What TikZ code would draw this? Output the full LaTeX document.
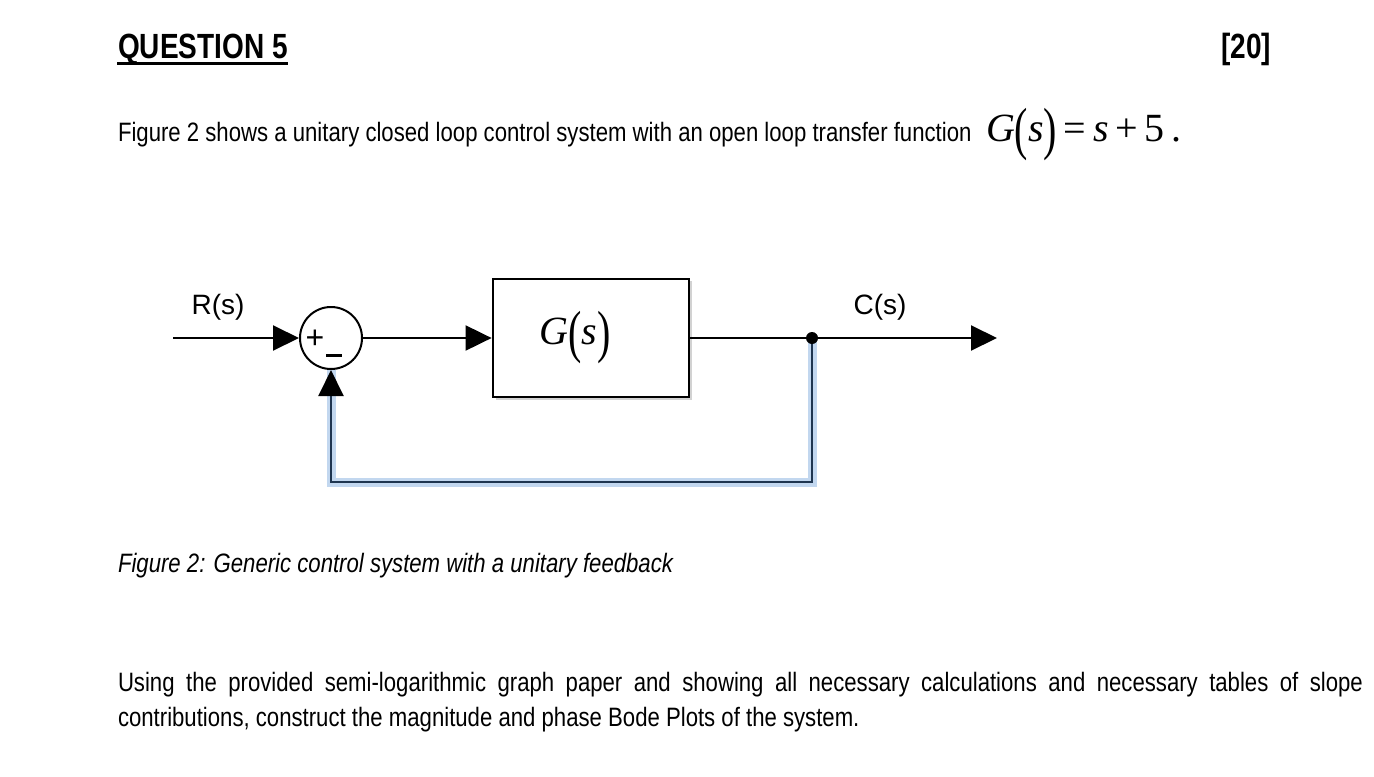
\documentclass[tikz,border=0pt]{standalone}
\usepackage{fontspec}
\setmainfont{Liberation Sans}[FakeStretch=0.833]
\newfontfamily\headfont{Liberation Sans}[FakeStretch=0.8]
\newfontfamily\diagfont{Liberation Sans}
\newfontfamily\serfont{Liberation Serif}
\usetikzlibrary{arrows.meta}
\definecolor{fbnavy}{HTML}{1F3550}
\definecolor{fbglow}{HTML}{C2D7EF}
\newcommand{\bigpar}[1]{\raisebox{-0.18em}{\scalebox{1}[1.45]{#1}}}

\begin{document}
\begin{tikzpicture}[x=0.5pt, y=-0.5pt, line width=1pt,
	body/.style={inner sep=0pt, font=\fontsize{13.3}{17.5}\selectfont},
	lab/.style={inner sep=0pt, font=\diagfont\fontsize{14}{16}\selectfont},
	sum/.style={draw, circle, minimum size=31pt, inner sep=0pt},
	block/.style={draw, line width=1.4pt, fill=white, minimum width=98pt, minimum height=59pt, inner sep=0pt},
	arr/.style={-{Triangle[length=13pt,width=12.5pt,color=black]}},
	glow/.style={draw=fbglow, line width=4.5pt},
	fb/.style={draw=fbnavy, line width=1pt}]
\useasboundingbox (0,0) rectangle (1374,776);
\node[body, anchor=base west, font=\headfont\fontsize{17.5}{20}\selectfont\bfseries] (head) at (117,58) {QUESTION 5};
\draw[line width=1.5pt] (117,63) -- (288,63);
\node[body, anchor=base east, font=\headfont\fontsize{17.5}{20}\selectfont\bfseries] (marks) at (1272,58) {[20]};
\node[body, anchor=base west] (intro) at (117,141) {Figure 2 shows a unitary closed loop control system with an open loop transfer function};
\node[body, anchor=base west, font=\serfont\fontsize{20}{22}\selectfont] (eq) at (985,141)
	{\textit{G}\bigpar{(}\textit{s}\bigpar{)}\,=\,\textit{s}\,+\,5\,.};
\node[sum] (sum) at (331,338) {};
\node[lab, font=\diagfont\fontsize{16}{16}\selectfont] (plus) at (315,339) {+};
\node[inner sep=0pt] (minus) at (334,355) {\rule{8pt}{1.5pt}};
\fill[gray!35] (496,281) rectangle (692,400);
\node[block] (g) at (591,338) {\hspace*{-16pt}\serfont\fontsize{20}{22}\selectfont\textit{G}\bigpar{(}\textit{s}\bigpar{)}};
\node[lab] (rlab) at (218,307) {R(s)};
\node[lab] (clab) at (880,307) {C(s)};
\coordinate (in) at (173,338);
\coordinate (dot) at (812,338);
\coordinate (out) at (997,338);
\coordinate (fbl) at (331,482);
\draw[glow] (dot) |- (fbl) -- (sum.south);
\draw[arr] (in) -- (sum.west);
\draw[arr] (sum.east) -- (g.west);
\draw (g.east) -- (dot);
\draw[arr] (dot) -- (out);
\draw[fb, arr] (dot) |- (fbl) -- (sum.south);
\fill (dot) circle (3pt);
\node[body, anchor=base west, font=\fontsize{13.3}{17.5}\selectfont\itshape] (cap) at (117,572) {Figure 2: Generic control system with a unitary feedback};
\node[body, anchor=north west, text width=622.5pt, align=justify] (task) at (117,671)
	{Using the provided semi-logarithmic graph paper and showing all necessary calculations and necessary tables of slope\linebreak contributions, construct the magnitude and phase Bode Plots of the system.};
\end{tikzpicture}
\end{document}
